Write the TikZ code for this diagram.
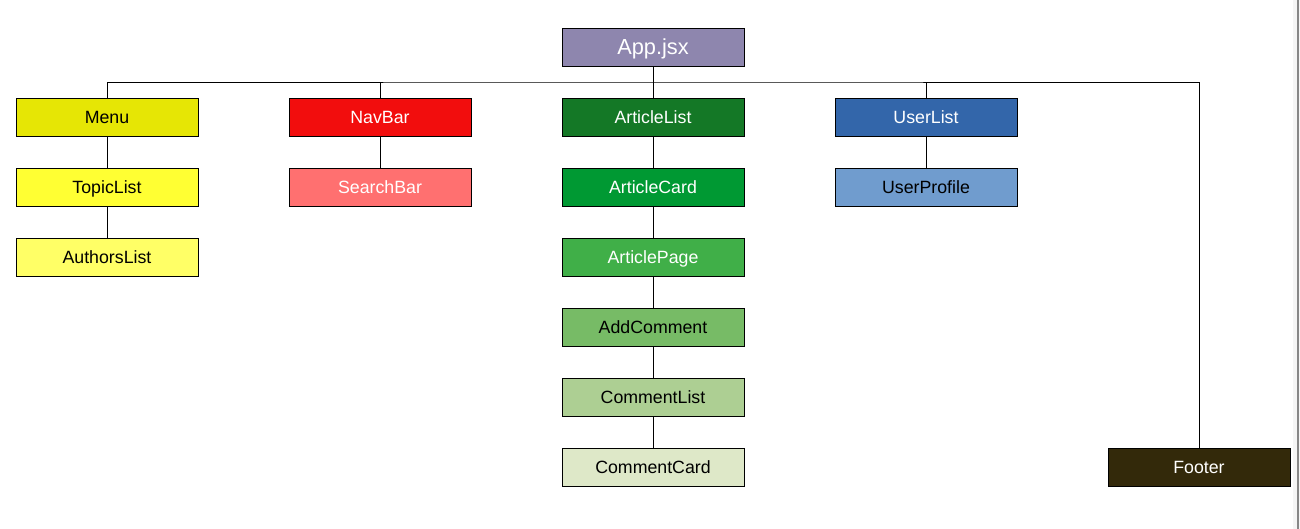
\documentclass[tikz,border=0pt]{standalone}
\usepackage{fontspec}
\setmainfont{Liberation Sans}
\usetikzlibrary{positioning}
\definecolor{appc}{HTML}{8E86AE}
\definecolor{menuc}{HTML}{E6E605}
\definecolor{topicc}{HTML}{FFFF33}
\definecolor{authc}{HTML}{FFFF66}
\definecolor{navc}{HTML}{F20D0D}
\definecolor{searchc}{HTML}{FF7070}
\definecolor{alistc}{HTML}{147826}
\definecolor{acardc}{HTML}{009933}
\definecolor{apagec}{HTML}{40AF48}
\definecolor{addc}{HTML}{77BB66}
\definecolor{clistc}{HTML}{ADCF93}
\definecolor{ccardc}{HTML}{DEE8C8}
\definecolor{ulistc}{HTML}{3366AA}
\definecolor{uprofc}{HTML}{709CCE}
\definecolor{footc}{HTML}{33290A}

\begin{document}
\begin{tikzpicture}[
  x=0.2mm, y=-0.2mm, font=\fontsize{10.1}{12}\selectfont,
  comp/.style={rectangle, draw=black, line width=0.55pt, minimum width=36.4mm, minimum height=7.6mm,
               inner sep=0pt, align=center, text height=2.55mm, text depth=0mm},
  dark/.style={comp, text=white},
  e/.style={draw=black, line width=0.55pt},
]
\useasboundingbox (0,0) rectangle (1300,529);
% scrollbar strip at the right
\fill[black!4] (1293,0) rectangle (1300,529);
\fill[black!47] (1296.5,0) rectangle (1299,529);

\node[dark, fill=appc, font=\fontsize{12.4}{14}\selectfont, text height=3.1mm] (app) at (653,47) {App.jsx};

\node[comp, fill=menuc]  (menu)   at (107,117) {Menu};
\node[comp, fill=topicc] (topic)  at (107,187) {TopicList};
\node[comp, fill=authc]  (author) at (107,257) {AuthorsList};

\node[dark, fill=navc]    (nav)    at (380,117) {NavBar};
\node[dark, fill=searchc] (search) at (380,187) {SearchBar};

\node[dark, fill=alistc] (alist) at (653,117) {ArticleList};
\node[dark, fill=acardc] (acard) at (653,187) {ArticleCard};
\node[dark, fill=apagec] (apage) at (653,257) {ArticlePage};
\node[comp, fill=addc]   (addc)  at (653,327) {AddComment};
\node[comp, fill=clistc] (clist) at (653,397) {CommentList};
\node[comp, fill=ccardc] (ccard) at (653,467) {CommentCard};

\node[dark, fill=ulistc] (ulist) at (926,117) {UserList};
\node[comp, fill=uprofc] (uprof) at (926,187) {UserProfile};

\node[dark, fill=footc] (footer) at (1199,467) {Footer};

% bus under App.jsx
\coordinate (bus) at (653,82);
\draw[e] (app) -- (alist);
\draw[e] (menu.north) |- (bus) -| (footer.north);
\draw[e] (nav.north) -- (nav.north |- bus);
\draw[e] (ulist.north) -- (ulist.north |- bus);
% chains
\draw[e] (menu) -- (topic);
\draw[e] (topic) -- (author);
\draw[e] (nav) -- (search);
\draw[e] (alist) -- (acard);
\draw[e] (acard) -- (apage);
\draw[e] (apage) -- (addc);
\draw[e] (addc) -- (clist);
\draw[e] (clist) -- (ccard);
\draw[e] (ulist) -- (uprof);
\end{tikzpicture}
\end{document}
